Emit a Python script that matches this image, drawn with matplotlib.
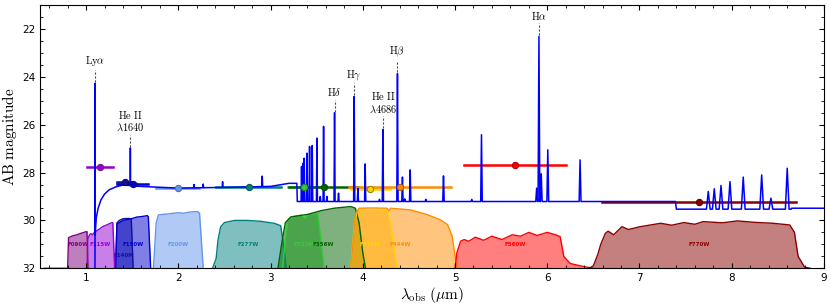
import numpy as np
import matplotlib
matplotlib.use("Agg")
import matplotlib.pyplot as plt
from matplotlib.ticker import AutoMinorLocator

plt.rcParams["mathtext.fontset"] = "cm"

# ------------------------------------------------------------------
# model spectrum (micron, AB mag)
# ------------------------------------------------------------------
cont_lam = [0.50, 1.095, 1.099, 1.11, 1.13, 1.16, 1.20, 1.25, 1.32, 1.40,
            1.60, 2.00, 2.50, 3.00, 3.20, 3.285, 3.29, 7.39, 7.40, 8.645,
            8.65, 9.00]
cont_mag = [34.0, 34.0, 30.6, 29.9, 29.5, 29.15, 28.9, 28.72, 28.6, 28.52,
            28.58, 28.65, 28.62, 28.58, 28.45, 28.45, 29.21, 29.21, 29.53,
            29.53, 29.49, 29.49]

line_lam = [1.098, 1.480, 1.55, 2.17, 2.27, 2.48, 2.91,
            3.336, 3.351, 3.365, 3.395, 3.423, 3.452, 3.503, 3.539, 3.575,
            3.611, 3.694, 3.737, 3.907, 3.947, 4.026, 4.181, 4.218, 4.376,
            4.43, 4.455, 4.514, 4.684, 4.875, 5.182, 5.287, 5.885, 5.910,
            5.935, 6.006, 6.356,
            7.746, 7.811, 7.884, 7.981, 8.125, 8.325, 8.425, 8.602]
line_mag = [24.27, 26.97, 28.45, 28.5, 28.48, 28.38, 28.15,
            27.75, 27.61, 27.40, 27.19, 26.91, 26.87, 26.56, 29.0, 26.07,
            29.0, 25.50, 28.86, 24.82, 28.66, 27.64, 29.12, 26.20, 23.87,
            28.19, 29.1, 27.89, 29.12, 28.14, 29.12, 26.42, 28.65, 22.31,
            28.05, 27.05, 27.47,
            28.79, 28.68, 28.54, 28.38, 28.19, 28.10, 29.07, 27.82]

# labelled lines
label_text = [r"$\mathrm{Ly}\alpha$", "$\\mathrm{He\\ II}$\n$\\lambda1640$",
              r"$\mathrm{H}\delta$", r"$\mathrm{H}\gamma$",
              "$\\mathrm{He\\ II}$\n$\\lambda4686$", r"$\mathrm{H}\beta$",
              r"$\mathrm{H}\alpha$"]
label_lam = [1.098, 1.480, 3.694, 3.907, 4.218, 4.376, 5.910]
label_peak = [24.27, 26.97, 25.50, 24.82, 26.20, 23.87, 22.31]

# ------------------------------------------------------------------
# filter curves (drawn in magnitude units at the bottom)
# ------------------------------------------------------------------
f090w_lam = [0.55, 0.80, 0.81, 0.85, 0.90, 0.95, 1.00, 1.01, 1.02]
f090w_mag = [32.0, 32.0, 30.72, 30.65, 30.6, 30.53, 30.47, 30.47, 32.0]
f115w_lam = [1.01, 1.02, 1.035, 1.05, 1.07, 1.09, 1.14, 1.18, 1.24, 1.28,
             1.29, 1.31]
f115w_mag = [32.0, 30.75, 30.62, 30.55, 30.6, 30.5, 30.37, 30.26, 30.16,
             30.09, 30.1, 32.0]
f140m_lam = [1.32, 1.335, 1.36, 1.40, 1.44, 1.47, 1.49, 1.51]
f140m_mag = [32.0, 30.1, 30.0, 29.93, 29.92, 29.92, 29.95, 32.0]
f150w_lam = [1.32, 1.335, 1.40, 1.50, 1.55, 1.60, 1.665, 1.675, 1.70]
f150w_mag = [32.0, 30.15, 30.0, 29.92, 29.86, 29.84, 29.8, 29.85, 32.0]
f200w_lam = [1.73, 1.76, 1.785, 1.85, 1.89, 1.95, 2.00, 2.06, 2.12, 2.21,
             2.23, 2.27]
f200w_mag = [32.0, 30.1, 29.77, 29.74, 29.73, 29.7, 29.68, 29.7, 29.65,
             29.63, 29.7, 32.0]
f277w_lam = [2.37, 2.41, 2.43, 2.46, 2.50, 2.61, 2.75, 2.90, 3.04, 3.11,
             3.14, 3.17]
f277w_mag = [32.0, 31.6, 30.82, 30.26, 30.09, 30.0, 30.0, 30.04, 30.12,
             30.22, 31.0, 32.0]
f335m_lam = [3.13, 3.16, 3.185, 3.26, 3.33, 3.37, 3.40, 3.51, 3.54, 3.58]
f335m_mag = [32.0, 30.8, 29.98, 29.84, 29.78, 29.91, 29.77, 29.7, 30.6,
             32.0]
f356w_lam = [3.08, 3.12, 3.16, 3.22, 3.40, 3.55, 3.69, 3.87, 3.92, 3.96,
             4.00, 4.03]
f356w_mag = [32.0, 31.0, 30.1, 29.85, 29.75, 29.59, 29.49, 29.42, 29.49,
             30.1, 31.35, 32.0]
f410m_lam = [3.87, 3.91, 3.94, 3.96, 4.10, 4.27, 4.30, 4.36, 4.38]
f410m_mag = [32.0, 30.1, 29.6, 29.55, 29.55, 29.56, 30.1, 31.7, 32.0]
f444w_lam = [3.87, 3.92, 3.96, 4.10, 4.26, 4.285, 4.30, 4.52, 4.70, 4.84,
             4.92, 4.97, 5.00, 5.04]
f444w_mag = [32.0, 29.77, 29.49, 29.48, 29.49, 29.6, 29.49, 29.56, 29.76,
             29.97, 30.18, 30.66, 31.5, 32.0]
f560w_lam = [5.00, 5.02, 5.06, 5.10, 5.15, 5.22, 5.31, 5.40, 5.51, 5.62,
             5.71, 5.80, 5.89, 6.00, 6.09, 6.14, 6.18, 6.25, 6.36, 6.50]
f560w_mag = [32.0, 31.35, 30.87, 30.8, 30.87, 30.7, 30.83, 30.66, 30.8,
             30.6, 30.66, 30.5, 30.63, 30.5, 30.6, 30.68, 31.51, 31.8, 31.9,
             32.0]
f770w_lam = [6.45, 6.50, 6.55, 6.58, 6.63, 6.66, 6.72, 6.81, 6.88, 7.01,
             7.23, 7.35, 7.48, 7.60, 7.69, 7.90, 8.06, 8.25, 8.45, 8.63,
             8.68, 8.72, 8.79, 8.85]
f770w_mag = [32.0, 31.9, 31.4, 31.0, 30.54, 30.45, 30.6, 30.26, 30.38,
             30.26, 30.12, 30.2, 30.09, 30.16, 30.05, 30.1, 30.02, 30.08,
             30.12, 30.19, 30.5, 31.5, 31.95, 32.0]

filter_names = ["F090W", "F115W", "F140M", "F150W", "F200W", "F277W",
                "F335M", "F356W", "F410M", "F444W", "F560W", "F770W"]
filter_lam = [f090w_lam, f115w_lam, f140m_lam, f150w_lam, f200w_lam,
              f277w_lam, f335m_lam, f356w_lam, f410m_lam, f444w_lam,
              f560w_lam, f770w_lam]
filter_mag = [f090w_mag, f115w_mag, f140m_mag, f150w_mag, f200w_mag,
              f277w_mag, f335m_mag, f356w_mag, f410m_mag, f444w_mag,
              f560w_mag, f770w_mag]
filter_pivot = [0.91, 1.155, 1.41, 1.51, 1.993, 2.762, 3.365, 3.575, 4.08,
                4.406, 5.652, 7.645]
filter_label_mag = [31.0, 31.0, 31.47, 31.0, 31.0, 31.0, 31.0, 31.0, 31.0,
                    31.0, 31.0, 31.0]

# photometry (pivot wavelength, AB mag, half filter width)
phot_names = ["F115W", "F140M", "F150W", "F200W", "F277W", "F335M",
              "F356W", "F410M", "F444W", "F560W", "F770W"]
phot_lam = [1.155, 1.418, 1.505, 1.993, 2.762, 3.365, 3.575, 4.08, 4.406,
            5.652, 7.645]
phot_mag = [27.75, 28.40, 28.47, 28.65, 28.59, 28.61, 28.60, 28.70, 28.60,
            27.68, 29.23]
phot_hw = [0.14, 0.08, 0.166, 0.235, 0.35, 0.18, 0.37, 0.21, 0.55, 0.556,
           1.05]

COLORS = {
    "F090W": ("purple", "purple"),
    "F115W": ("darkviolet", "#7a1a8a"),
    "F140M": ("#10109a", "#0a0a60"),
    "F150W": ("mediumblue", "#101070"),
    "F200W": ("cornflowerblue", "#4a6fb0"),
    "F277W": ("teal", "#0a5a5a"),
    "F335M": ("limegreen", "#209020"),
    "F356W": ("darkgreen", "#0a4a0a"),
    "F410M": ("gold", "#a08000"),
    "F444W": ("darkorange", "#b06000"),
    "F560W": ("red", "#b00000"),
    "F770W": ("darkred", "#600000"),
}


def build_spectrum():
    """Continuum plus narrow emission lines drawn as spikes."""
    lam = list(cont_lam)
    mag = list(cont_mag)
    for l0, m0 in zip(line_lam, line_mag):
        w = 0.02 if l0 > 7.4 else 0.0016 * l0
        for x in (l0 - w, l0 + w):
            lam.append(x)
            mag.append(np.interp(x, cont_lam, cont_mag))
        lam.append(l0)
        mag.append(m0)
    order = np.argsort(lam, kind="stable")
    return np.array(lam)[order], np.array(mag)[order]


fig = plt.figure(figsize=(8.31, 3.06), dpi=100)
ax = fig.add_axes([0.0481, 0.1232, 0.9434, 0.8605])

# filters
for name, fl, fm, piv, lm in zip(filter_names, filter_lam, filter_mag,
                                 filter_pivot, filter_label_mag):
    c = COLORS[name][0]
    ax.fill_between(fl, 32, fm, color=c, alpha=0.5, lw=0, zorder=1)
    ax.plot(fl, fm, color=c, lw=1.0, zorder=1.5)
    ax.text(piv, lm, name, color=c, fontsize=4, fontweight="bold",
            ha="center", va="center", zorder=1.6)

# photometry bars
for name, x, y, hw in zip(phot_names, phot_lam, phot_mag, phot_hw):
    c, ec = COLORS[name]
    ax.plot([x - hw, x + hw], [y, y], color=c, lw=1.8, zorder=2)

# spectrum
spec_lam, spec_mag = build_spectrum()
ax.plot(spec_lam, spec_mag, color="blue", lw=1.1, zorder=3)

# photometry points
for name, x, y in zip(phot_names, phot_lam, phot_mag):
    c, ec = COLORS[name]
    ax.plot(x, y, "o", ms=4.5, mfc=c, mec=ec, mew=0.8, zorder=4)

# line labels
for txt, x, pk in zip(label_text, label_lam, label_peak):
    ax.plot([x, x], [pk - 0.05, pk - 0.55], ls=(0, (2, 1.5)), color="0.3",
            lw=0.8, zorder=3.5)
    ax.text(x, pk - 0.62, txt, fontsize=7.5, ha="center", va="bottom",
            linespacing=1.1)

ax.set_xlim(0.5, 9)
ax.set_ylim(32, 21)
ax.set_yticks([22, 24, 26, 28, 30, 32])
ax.xaxis.set_minor_locator(AutoMinorLocator())
ax.yaxis.set_minor_locator(AutoMinorLocator())
ax.tick_params(which="both", direction="in", top=True, right=True,
               labelsize=7.5)
ax.tick_params(which="major", length=3.5)
ax.tick_params(which="minor", length=2)
ax.set_xlabel(r"$\lambda_{\rm obs}\ (\mu{\rm m})$", fontsize=11, labelpad=1)
ax.set_ylabel(r"$\mathrm{AB\ magnitude}$", fontsize=11, labelpad=2)

fig.savefig("out.png", dpi=100)
